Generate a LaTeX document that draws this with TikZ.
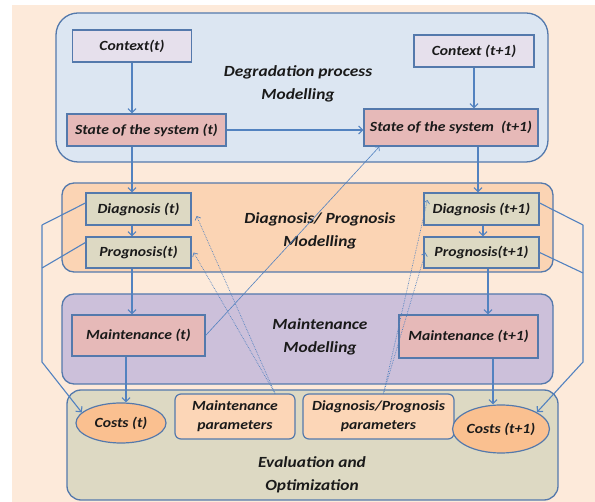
\documentclass[tikz,border=0pt]{standalone}
\usepackage{fontspec}
\setmainfont{Carlito}[FakeStretch=1.12]
\usetikzlibrary{shapes.geometric,arrows.meta}

\definecolor{pagebg}{HTML}{FDEADA}
\definecolor{edge}{HTML}{5479AC}
\definecolor{link}{HTML}{5282C0}
\definecolor{degfill}{HTML}{DCE6F2}
\definecolor{diagfill}{HTML}{FBD4B4}
\definecolor{mntfill}{HTML}{CCC0DA}
\definecolor{evalfill}{HTML}{DDD9C3}
\definecolor{ctxfill}{HTML}{E6E0EC}
\definecolor{statefill}{HTML}{E6B9B8}
\definecolor{dpfill}{HTML}{DDD9C3}
\definecolor{costfill}{HTML}{FAC090}
\definecolor{parfill}{HTML}{FCD6B7}
\definecolor{ink}{HTML}{1A1A1A}

\tikzset{
  layer/.style={draw=edge, line width=1.3pt},
  box/.style={draw=edge, line width=1.2pt, inner sep=1pt, text=ink, align=center},
  costnode/.style={box, ellipse, fill=costfill},
  parbox/.style={box, fill=parfill, rounded corners=6pt},
  layertext/.style={align=center, text=ink, font=\bfseries\itshape\fontsize{15.5}{23}\selectfont},
  arr/.style={draw=link, line width=1.1pt, -{Straight Barb[length=4pt,width=8pt]}},
  flow/.style={draw=link, line width=1.1pt},
  thinarr/.style={draw=link, line width=0.6pt, -{Straight Barb[length=3pt,width=6pt]}},
  dotarr/.style={draw=link, line width=0.7pt, densely dotted, -{Straight Barb[length=3pt,width=6pt]}}
}

\begin{document}
\begin{tikzpicture}[x=1pt, y=-1pt, font=\bfseries\itshape\fontsize{14}{19}\selectfont]
\useasboundingbox (0,0) rectangle (595,502);
\fill[white] (0,0) rectangle (595,502);
\fill[pagebg] (12,5) rectangle (595,502);

% layers
\draw[layer, fill=degfill, rounded corners=22pt] (56,13) rectangle (548,162);
\draw[layer, fill=diagfill, rounded corners=12pt] (62,183) rectangle (553,272);
\draw[layer, fill=mntfill, rounded corners=12pt] (62,294) rectangle (553,384);
\draw[layer, fill=evalfill, rounded corners=14pt] (67,390) rectangle (558,500);

\node[layertext] (lblDeg) at (298,84) {Degradation process\\Modelling};
\node[layertext] (lblDiag) at (320,231) {Diagnosis/ Prognosis\\Modelling};
\node[layertext] (lblMnt) at (320,337) {Maintenance\\Modelling};
\node[layertext] (lblEval) at (312,475) {Evaluation and\\Optimization};

% degradation process
\node[box, fill=ctxfill, minimum width=119pt, minimum height=32pt] (ctxA) at (132,46) {Context(t)};
\node[box, fill=statefill, minimum width=159pt, minimum height=32pt] (stA) at (146.5,130) {State of the system (t)};
\node[box, fill=ctxfill, minimum width=120pt, minimum height=32pt] (ctxB) at (474,51) {Context (t+1)};
\node[box, fill=statefill, minimum width=174pt, minimum height=37pt] (stB) at (451,127.5) {State of the system~~(t+1)};

% diagnosis / prognosis
\node[box, fill=dpfill, minimum width=105pt, minimum height=32pt] (diagA) at (138.5,209) {Diagnosis (t)};
\node[box, fill=dpfill, minimum width=105pt, minimum height=31pt] (progA) at (138.5,252.5) {Prognosis(t)};
\node[box, fill=dpfill, minimum width=115pt, minimum height=32pt] (diagB) at (481.5,209) {Diagnosis (t+1)};
\node[box, fill=dpfill, minimum width=115pt, minimum height=31pt] (progB) at (481.5,252.5) {Prognosis(t+1)};

% maintenance
\node[box, fill=statefill, minimum width=133pt, minimum height=41pt] (mntA) at (138.5,335.5) {Maintenance (t)};
\node[box, fill=statefill, minimum width=139pt, minimum height=43pt] (mntB) at (468.5,336.5) {Maintenance (t+1)};

% evaluation
\node[costnode, minimum width=90pt, minimum height=40pt, inner sep=0pt] (costA) at (121,423) {Costs (t)};
\node[parbox, minimum width=120pt, minimum height=45pt] (mpar) at (235,416.5) {Maintenance\\parameters};
\node[parbox, minimum width=151pt, minimum height=45pt] (dpar) at (378.5,416.5) {Diagnosis/Prognosis\\parameters};
\node[costnode, minimum width=84pt, minimum height=48pt, inner sep=0pt] (costB) at (501,429) {Costs (t+1)};

% column positions of the vertical links
\coordinate (cL) at (132,0);
\coordinate (cLm) at (126,0);
\coordinate (cR1) at (478,0);
\coordinate (cR2) at (483,0);
\coordinate (cR3) at (488,0);
\coordinate (cR4) at (493,0);

% time step t
\draw[arr] (ctxA.south -| cL) -- (stA.north -| cL);
\draw[arr] (stA.south -| cL) -- (diagA.north -| cL);
\draw[arr] (diagA.south -| cL) -- (progA.north -| cL);
\draw[arr] (progA.south -| cL) -- (mntA.north -| cL);
\draw[arr] (mntA.south -| cLm) -- (costA.north -| cLm);

% time step t+1
\draw[arr] (ctxB.south) -- (stB.north -| ctxB.south);
\draw[arr] (stB.south -| cR1) -- (diagB.north -| cR1);
\draw[arr] (diagB.south -| cR2) -- (progB.north -| cR2);
\draw[arr] (progB.south -| cR3) -- (mntB.north -| cR3);
\draw[arr] (mntB.south -| cR4) -- (costB.north -| cR4);

% state transition
\draw[arr] (stA.east) -- (stB.west |- stA.east);

% left cost bus
\coordinate (busL1) at (42,225);
\coordinate (busL2) at (42,268);
\coordinate (busL3) at (42,362);
\draw[flow] ([yshift=6pt]diagA.west) -- (busL1);
\draw[flow] ([yshift=10pt]progA.west) -- (busL2);
\draw[arr] (busL1) -- (busL3) -- (costA.165);

% right cost bus
\coordinate (busR1) at (583,225);
\coordinate (busR2) at (583,273);
\coordinate (busR3) at (583,362);
\draw[flow] ([yshift=6pt]diagB.east) -- (busR1);
\draw[flow] (progB.east) -- (busR2);
\draw[arr] (busR1) -- (busR3) -- (costB.25);

% maintenance feeds back into the next state
\draw[thinarr] (mntA.east) -- ([xshift=16pt]stB.south west);

% parameter links
\coordinate (mparTop) at ([xshift=40pt]mpar.north);
\coordinate (dparTop) at ([xshift=5pt]dpar.north);
\draw[dotarr] (mparTop) -- ([xshift=5pt,yshift=-7pt]diagA.east);
\draw[dotarr] (mparTop) -- ([xshift=2pt]progA.east);
\draw[dotarr] (dparTop) -- ([xshift=4pt,yshift=9pt]diagB.west);
\draw[dotarr] (dparTop) -- ([xshift=2pt]progB.west);
\end{tikzpicture}
\end{document}
